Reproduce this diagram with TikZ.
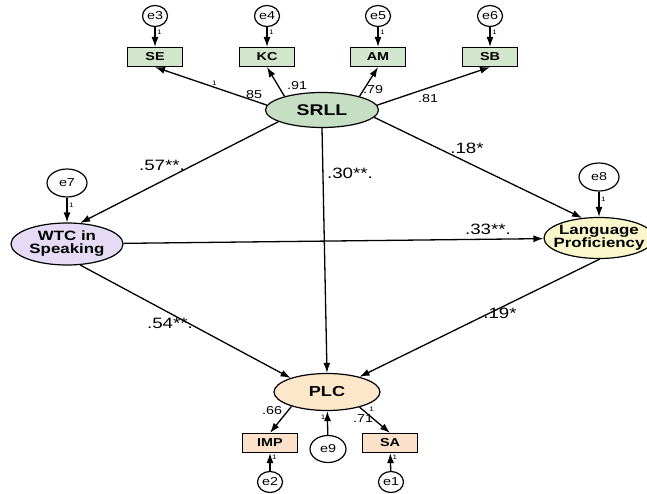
\documentclass[tikz,border=0pt]{standalone}
\usepackage{fontspec}
\setmainfont{Liberation Sans}[FakeStretch=1.25]
\usetikzlibrary{arrows.meta,shapes.geometric}

\definecolor{srllgreen}{RGB}{198,222,196}
\definecolor{boxgreen}{RGB}{210,230,206}
\definecolor{wtclav}{RGB}{229,219,244}
\definecolor{lpyellow}{RGB}{250,248,202}
\definecolor{plcpeach}{RGB}{253,231,203}
\definecolor{boxpeach}{RGB}{251,224,202}

\begin{document}
\begin{tikzpicture}[
  x=1pt, y=-1pt,
  latent/.style={draw, ellipse, line width=1.2pt, inner xsep=-8pt, inner ysep=0pt, align=center, font=\fontsize{13.5}{13}\selectfont\bfseries},
  obs/.style={draw, rectangle, line width=1.2pt, minimum width=55pt, minimum height=19pt, inner sep=0pt, font=\fontsize{11.5}{11}\selectfont\bfseries},
  err/.style={draw, ellipse, fill=white, line width=1.2pt, inner sep=0pt, minimum width=25pt, minimum height=21pt, font=\fontsize{11.5}{11}\selectfont},
  arr/.style={-{Latex[length=10pt,width=7pt]}, line width=1.3pt},
  coef/.style={inner sep=0pt, font=\fontsize{15}{15}\selectfont},
  load/.style={inner sep=0pt, font=\fontsize{11.5}{11}\selectfont},
  one/.style={inner sep=1.5pt, font=\fontsize{6.5}{6}\selectfont}
]
\useasboundingbox[fill=white] (0,0) rectangle (647,494);

% indicators of SRLL
\node[err] (e3) at (155,16) {e3};
\node[err] (e4) at (267,16) {e4};
\node[err] (e5) at (378,16) {e5};
\node[err] (e6) at (490,16) {e6};
\node[obs, fill=boxgreen] (se) at (155,57) {SE};
\node[obs, fill=boxgreen] (kc) at (267,57) {KC};
\node[obs, fill=boxgreen] (am) at (378,57) {AM};
\node[obs, fill=boxgreen] (sb) at (490,57) {SB};

% latent variables
\node[latent, fill=srllgreen, minimum width=113pt, minimum height=35pt, font=\fontsize{15.5}{15}\selectfont\bfseries] (srll) at (322,110) {SRLL};
\node[latent, fill=wtclav, minimum width=112pt, minimum height=42pt] (wtc) at (67,244) {WTC in\\Speaking};
\node[latent, fill=lpyellow, minimum width=110pt, minimum height=41pt] (lp) at (599,238) {Language\\Proficiency};
\node[latent, fill=plcpeach, minimum width=106pt, minimum height=37pt, font=\fontsize{14.5}{14}\selectfont\bfseries] (plc) at (327,392) {PLC};
\node[err, minimum width=40pt, minimum height=28pt] (e7) at (67,183) {e7};
\node[err, minimum width=40pt, minimum height=28pt] (e8) at (599,177) {e8};

% indicators of PLC
\node[obs, fill=boxpeach] (imp) at (270,443) {IMP};
\node[obs, fill=boxpeach] (sa) at (390,443) {SA};
\node[err, minimum width=36pt, minimum height=27pt] (e9) at (328,449) {e9};
\node[err] (e2) at (270,482) {e2};
\node[err] (e1) at (391,482) {e1};

\draw[arr] (e3) -- node[one, right, pos=.28] {1} (se);
\draw[arr] (e4) -- node[one, right, pos=.28] {1} (kc);
\draw[arr] (e5) -- node[one, right, pos=.28] {1} (am);
\draw[arr] (e6) -- node[one, right, pos=.28] {1} (sb);
\draw[arr] (srll.175) -- node[one, above, pos=.47] {1} (se.south);
\draw[arr] (srll.160) -- (kc.south);
\draw[arr] (srll.20) -- (am.south);
\draw[arr] (srll.5) -- (sb.south);

\draw[arr] (e7) -- node[one, right, pos=.3] {1} (wtc);
\draw[arr] (e8) -- node[one, right, pos=.3] {1} (lp);
\draw[arr] (srll.195) -- (wtc.58);
\draw[arr] (srll.south) -- (plc.north);
\draw[arr] (srll.-8) -- (lp.130);
\draw[arr] (wtc) -- (lp);
\draw[arr] (wtc.-58) -- (plc.159);
\draw[arr] (lp.-88) -- (plc.25);

\draw[arr] (plc.202) -- (imp.north);
\draw[arr] (plc.-25) -- node[one, above right, pos=.25] {1} (sa.north);
\draw[arr] (e9) -- node[one, left, pos=.74] {1} (plc);
\draw[arr] (e2) -- node[one, right, pos=.74] {1} (imp);
\draw[arr] (e1) -- node[one, right, pos=.74] {1} (sa);

% estimates
\node[load] (c85) at (252,95) {.85};
\node[load] (c91) at (297,86) {.91};
\node[load] (c79) at (373,90) {.79};
\node[load] (c81) at (428,99) {.81};
\node[coef] (c57) at (162,165) {.57**.};
\node[coef] (c30) at (350,173) {.30**.};
\node[coef] (c18) at (467,148) {.18*};
\node[coef] (c33) at (488,229) {.33**.};
\node[coef] (c54) at (170,323) {.54**.};
\node[coef] (c19) at (500,313) {.19*};
\node[load] (c66) at (272,411) {.66};
\node[load] (c71) at (363,419) {.71};

\end{tikzpicture}
\end{document}
